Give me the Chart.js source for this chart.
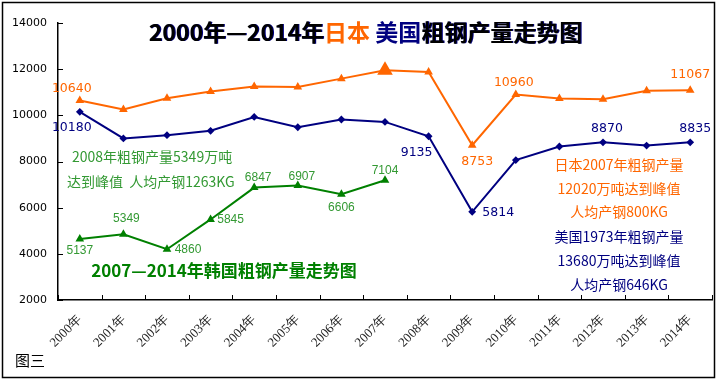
<!DOCTYPE html>
<html lang="zh">
<head>
<meta charset="UTF-8">
<title>粗钢产量走势图</title>
<script src="https://cdn.jsdelivr.net/npm/chart.js"></script>
<style>
    html, body { margin: 0; padding: 0; background: #fff; }
    #wrap { width: 719px; height: 380px; }
</style>
</head>
<body>
<div id="wrap"><canvas id="steelChart" width="719" height="380"></canvas></div>
<script>
    // 年份 (x 轴)
    const years = ['2000年', '2001年', '2002年', '2003年', '2004年', '2005年', '2006年', '2007年',
                   '2008年', '2009年', '2010年', '2011年', '2012年', '2013年', '2014年'];
    // 粗钢产量 (万吨)
    const japan = [10640, 10250, 10740, 11030, 11250, 11230, 11590, 11950, 11880, 8706, 10900, 10730, 10700, 11060, 11090];
    const usa   = [10150, 9000, 9140, 9330, 9930, 9485, 9820, 9715, 9095, 5820, 8060, 8650, 8830, 8690, 8830];
    const korea = [4640, 4850, 4200, 5490, 6870, 6960, 6580, 7190];
    // 数据标签
    const japanLabels = ['10640', null, null, null, null, null, null, null, null, '8753', '10960', null, null, null, '11067'];
    const usaLabels   = ['10180', null, null, null, null, null, null, null, '9135', '5814', null, null, '8870', null, '8835'];
    const koreaLabels = ['5137', '5349', '4860', '5845', '6847', '6907', '6606', '7104'];
    const yTicks = [2000, 4000, 6000, 8000, 10000, 12000, 14000];

    // 标签相对数据点的偏移 (像素)
    const japanOff = {0: [-8, -12], 9: [5, 17], 10: [-2, -12], 14: [0, -15]};
    const usaOff   = {0: [-8, 16], 8: [-12, 17], 9: [26, 1], 12: [4, -14], 14: [5, -14]};
    const koreaOff = [[0, 12], [3, -16], [21, 0], [20, 0], [4, -10], [4, -9], [0, 13], [0, -10]];

    const ORANGE = '#FF6600';
    const NAVY = '#000080';
    const GREEN = '#008000';
    const CJK = '"Noto Sans CJK SC", sans-serif';

    function drawRich(ctx, parts, cx, cy, font, shadow) {
        ctx.font = font;
        ctx.textBaseline = 'middle';
        ctx.textAlign = 'left';
        let total = 0;
        parts.forEach(p => total += ctx.measureText(p[0]).width);
        let x = cx - total / 2;
        parts.forEach(p => {
            if (shadow && p[1] === '#000') {
                ctx.fillStyle = NAVY;
                ctx.fillText(p[0], x + 1, cy);
            }
            ctx.fillStyle = p[1];
            ctx.fillText(p[0], x, cy);
            x += ctx.measureText(p[0]).width;
        });
    }

    function drawLabels(ctx, meta, labels, offsets, color, font) {
        ctx.font = font;
        ctx.fillStyle = color;
        ctx.textAlign = 'center';
        ctx.textBaseline = 'middle';
        labels.forEach((t, i) => {
            if (!t || !meta.data[i]) return;
            const o = offsets[i];
            ctx.fillText(t, meta.data[i].x + o[0], meta.data[i].y + o[1]);
        });
    }

    const decor = {
        id: 'decor',
        beforeDraw(chart) {
            const ctx = chart.ctx;
            ctx.save();
            ctx.fillStyle = '#fff';
            ctx.fillRect(0, 0, chart.width, chart.height);
            ctx.restore();
        },
        afterDraw(chart) {
            const ctx = chart.ctx;
            const a = chart.chartArea;
            const x = chart.scales.x;
            const y = chart.scales.y;
            ctx.save();

            // 内侧刻度线
            ctx.strokeStyle = '#000';
            ctx.lineWidth = 1;
            ctx.beginPath();
            y.ticks.forEach((t, i) => {
                const py = Math.round(y.getPixelForTick(i)) + 0.5;
                ctx.moveTo(a.left, py);
                ctx.lineTo(a.left + 5, py);
            });
            for (let k = 0; k <= years.length; k++) {
                const px = Math.round(x.getPixelForValue(k - 0.5)) + 0.5;
                ctx.moveTo(px, a.bottom);
                ctx.lineTo(px, a.bottom - 5);
            }
            ctx.stroke();

            // 外框
            ctx.lineWidth = 1.5;
            ctx.strokeRect(2.5, 2.5, 712, 375);

            // 标题
            drawRich(ctx, [['2000年—2014年', '#000'], ['日本', ORANGE], [' 美国', NAVY], ['粗钢产量走势图', '#000']],
                     365.5, 32, 'bold 23px ' + CJK, true);

            // 数据标签
            drawLabels(ctx, chart.getDatasetMeta(0), japanLabels, japanOff, ORANGE, '12.5px "DejaVu Sans"');
            drawLabels(ctx, chart.getDatasetMeta(1), usaLabels, usaOff, NAVY, '12.5px "DejaVu Sans"');
            drawLabels(ctx, chart.getDatasetMeta(2), koreaLabels, koreaOff, '#339933', '12px "Liberation Sans"');

            // 注释
            ctx.textBaseline = 'middle';
            ctx.font = '14px ' + CJK;
            ctx.fillStyle = '#339933';
            ctx.textAlign = 'left';
            ctx.fillText('2008年粗钢产量5349万吨', 72, 157);
            ctx.fillText('达到峰值  人均产钢1263KG', 67, 182);
            ctx.textAlign = 'center';
            ctx.fillStyle = ORANGE;
            ctx.fillText('日本2007年粗钢产量', 619, 165);
            ctx.fillText('12020万吨达到峰值', 619, 189);
            ctx.fillText('人均产钢800KG', 619, 212);
            ctx.fillStyle = NAVY;
            ctx.fillText('美国1973年粗钢产量', 619, 237);
            ctx.fillText('13680万吨达到峰值', 619, 261);
            ctx.fillText('人均产钢646KG', 619, 285);

            ctx.font = 'bold 17px ' + CJK;
            ctx.fillStyle = GREEN;
            ctx.fillText('2007—2014年韩国粗钢产量走势图', 224, 271);

            ctx.font = '15px ' + CJK;
            ctx.fillStyle = '#000';
            ctx.textAlign = 'left';
            ctx.fillText('图三', 15, 360);

            ctx.restore();
        }
    };

    const ctx = document.getElementById('steelChart').getContext('2d');
    new Chart(ctx, {
        type: 'line',
        data: {
            labels: years,
            datasets: [
                {
                    label: '日本',
                    data: japan,
                    borderColor: ORANGE,
                    backgroundColor: ORANGE,
                    borderWidth: 2,
                    pointStyle: 'triangle',
                    pointRadius: c => c.dataIndex === 7 ? 7 : 3,
                    tension: 0
                },
                {
                    label: '美国',
                    data: usa,
                    borderColor: NAVY,
                    backgroundColor: NAVY,
                    borderWidth: 2,
                    pointStyle: 'rectRot',
                    pointRadius: 2.5,
                    tension: 0
                },
                {
                    label: '韩国',
                    data: korea,
                    borderColor: GREEN,
                    backgroundColor: GREEN,
                    borderWidth: 2,
                    pointStyle: 'triangle',
                    pointRadius: 3,
                    tension: 0
                }
            ]
        },
        options: {
            responsive: false,
            animation: false,
            devicePixelRatio: 1,
            layout: { padding: { top: 23, right: 7, left: 0, bottom: 0 } },
            plugins: {
                legend: { display: false },
                tooltip: { enabled: false }
            },
            scales: {
                x: {
                    offset: true,
                    grid: { display: false, drawTicks: false },
                    border: { display: true, color: '#000', width: 1.5 },
                    ticks: {
                        minRotation: 45,
                        maxRotation: 45,
                        padding: 12,
                        color: '#222',
                        font: { family: '"Liberation Serif", serif', size: 13 }
                    },
                    afterFit: s => { s.height = 80; }
                },
                y: {
                    min: 2000,
                    max: 14000,
                    grid: { display: false, drawTicks: false },
                    border: { display: true, color: '#000', width: 1.5 },
                    afterBuildTicks: s => { s.ticks = yTicks.map(v => ({ value: v })); },
                    ticks: {
                        padding: 11,
                        color: '#000',
                        font: { family: '"DejaVu Sans"', size: 11 },
                        callback: v => String(v)
                    },
                    afterFit: s => { s.width = 58; }
                }
            }
        },
        plugins: [decor]
    });
</script>
</body>
</html>
